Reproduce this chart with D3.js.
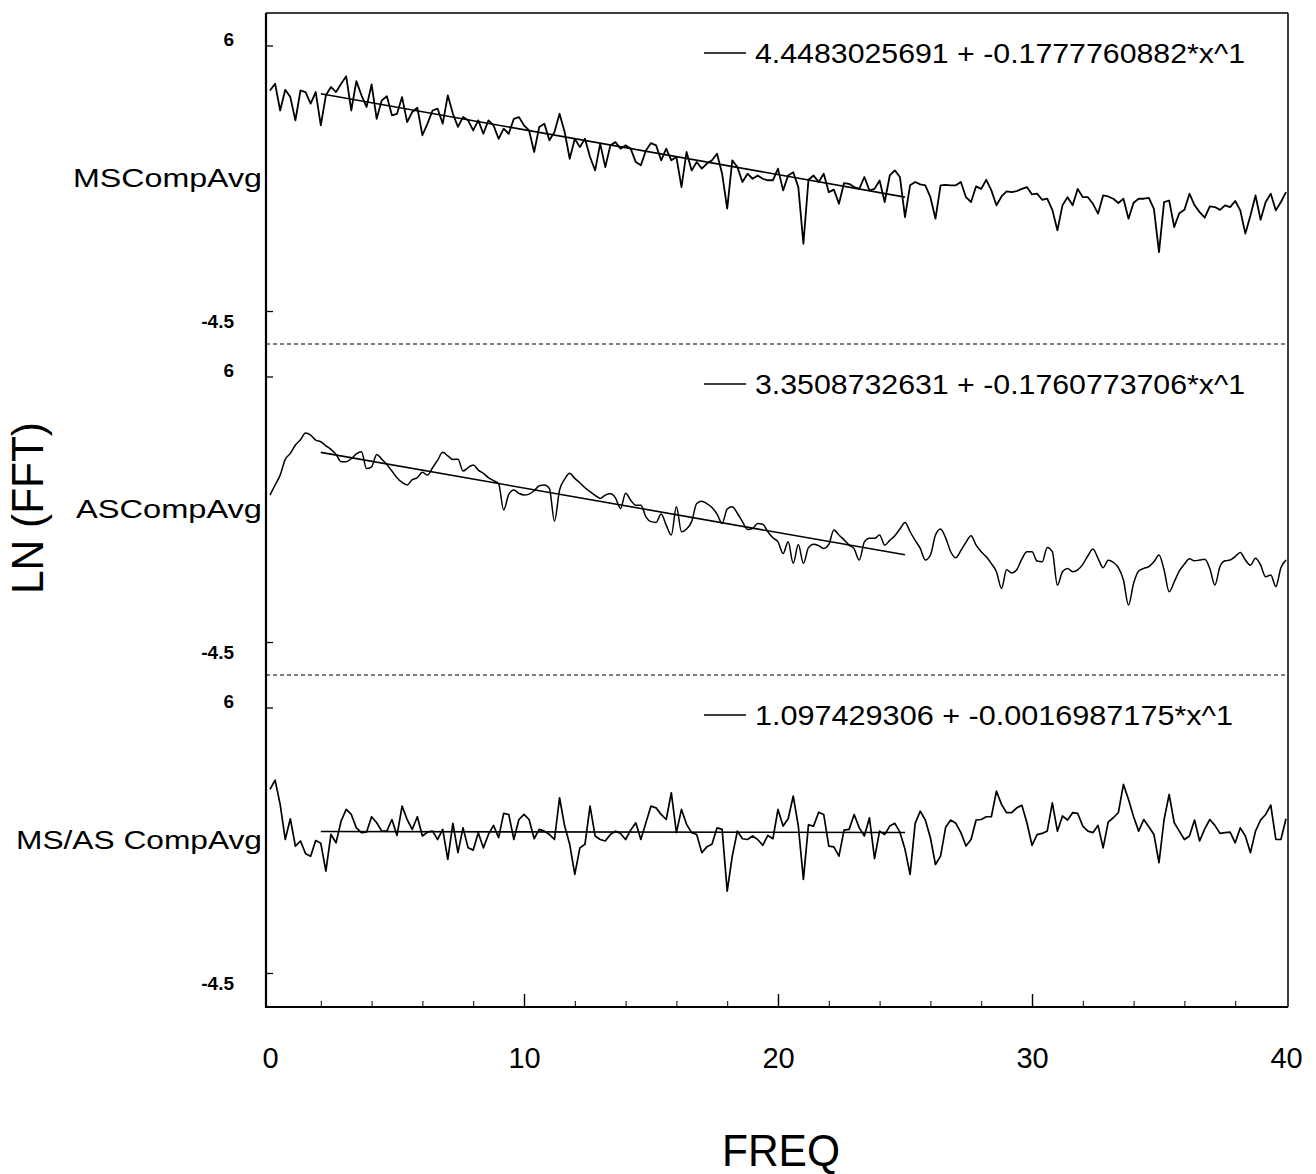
<!DOCTYPE html>
<html lang="en">
<head>
<meta charset="utf-8">
<title>LN (FFT) vs FREQ</title>
<style>
body { margin: 0; background: #fff; }
text { font-family: "Liberation Sans", Arial, Helvetica, sans-serif; fill: #000; }
.axis path, .axis line { fill: none; stroke: #000; }
</style>
</head>
<body>
<script src="https://cdn.jsdelivr.net/npm/d3@7"></script>
<script>

// frequency grid, 0..40 step 0.2
var freq = d3.range(0, 201).map(function(i){ return +(i * 0.2).toFixed(1); });

// LN(FFT) values, one per freq point
var msComp = [
  4.22, 4.49, 3.43, 4.25, 3.96, 3.04, 4.22, 4.16, 3.70, 4.16,
  2.84, 4.03, 4.36, 4.16, 4.49, 4.78, 3.43, 4.59, 4.03, 3.57,
  4.46, 3.10, 3.83, 3.99, 3.24, 3.30, 3.96, 2.97, 3.37, 3.54,
  2.45, 2.91, 3.43, 3.50, 2.91, 4.03, 3.30, 2.78, 3.17, 3.04,
  2.64, 3.04, 2.51, 3.04, 2.84, 2.31, 2.71, 2.51, 3.10, 3.17,
  2.84, 2.64, 1.79, 2.78, 2.91, 2.25, 2.58, 3.30, 2.58, 1.52,
  2.31, 1.98, 2.31, 1.59, 1.06, 2.12, 1.19, 2.05, 2.18, 1.92,
  2.05, 1.92, 1.39, 1.26, 1.85, 2.14, 2.05, 1.46, 1.92, 1.46,
  1.59, 0.40, 1.79, 1.06, 1.39, 1.13, 1.33, 1.46, 1.72, 0.93,
  -0.45, 1.46, 1.19, 0.60, 0.93, 0.73, 0.86, 0.73, 0.67, 0.67,
  1.13,
  0.27, 0.86, 0.99, 0.40, -1.84, 0.69, 0.86, 0.60, 0.93, 0.20,
  0.30, -0.26, 0.56, 0.53, 0.40, 0.33, 0.80, 0.27, 0.33, 0.66,
  -0.19, 0.86, 1.06, 0.80, -0.79, 0.47, 0.60, 0.51, 0.47, 0.00,
  -0.85, 0.47, 0.49, 0.47, 0.47, 0.60, 0.00, -0.19, 0.43, 0.33,
  0.69, 0.27, -0.32, 0.03, 0.23, 0.20, 0.24, 0.33, 0.40, 0.11,
  0.14, -0.10, -0.06, -0.50, -1.31, -0.32, 0.00, -0.32, 0.33, 0.00,
  0.00, -0.26, -0.65, 0.07, 0.03, -0.06, -0.23, -0.06, -0.85, -0.22,
  -0.06, -0.06, -0.03, -0.46, -2.17, -0.19, -0.13, -1.18, -0.63, -0.50,
  0.14, -0.32, -0.59, -0.81, -0.36, -0.39, -0.50, -0.32, -0.39, -0.15,
  -0.52, -1.44, -0.72, 0.07, -0.89, -0.19, 0.14, -0.52, -0.19, 0.20
];

var asComp = [
  1.31, 1.71, 2.10, 2.72, 2.96, 3.29, 3.50, 3.77, 3.68, 3.48,
  3.42, 3.26, 3.12, 2.92, 2.63, 2.63, 2.75, 2.94, 3.02, 2.36,
  2.43, 2.92, 2.73, 2.52, 2.26, 2.00, 1.81, 1.71, 1.92, 2.00,
  2.21, 2.10, 2.39, 2.69, 3.00, 2.86, 2.72, 2.73, 2.26, 2.40,
  2.50, 2.30, 2.17, 2.00, 1.88, 1.76, 0.72, 1.34, 1.51, 1.38,
  1.31, 1.35, 1.48, 1.68, 1.71, 1.57, 0.28, 1.51, 1.94, 2.17,
  1.97, 1.80, 1.60, 1.45, 1.30,
  1.18, 1.31, 1.36, 1.20, 0.78, 1.38, 1.11, 0.91, 0.91, 0.45,
  0.26, 0.23, 0.56, 0.12, -0.27, 0.85, -0.14, -0.03, 0.26, 0.98,
  1.07, 0.97, 0.82, 0.56, 0.19, 0.76, 0.85, 0.59, 0.26, -0.05,
  -0.01, 0.19, 0.16, -0.14, -0.38, -0.54, -1.00, -0.54, -1.39, -0.64,
  -1.39, -0.77, -0.63, -0.69, -0.80, -0.64, -0.07, -0.27, -0.46, -0.67,
  -0.82, -1.26, -0.54, -0.40, -0.40, -0.27, -0.67, -0.48, -0.30, -0.03,
  0.23, -0.14, -0.48, -0.80, -1.26, -1.06, -0.27, -0.03, -0.38, -0.93,
  -1.17, -0.88, -0.56, -0.30, -0.67, -0.93, -1.13, -1.40, -1.72, -2.38,
  -1.64, -1.77, -1.64, -1.22, -0.93, -0.93, -1.30, -1.33, -0.76, -0.93,
  -2.25, -1.72, -1.59, -1.72, -1.65, -1.43, -1.09, -0.82, -1.19, -1.56,
  -1.27, -1.35, -1.56, -2.05, -3.04, -2.18, -1.69, -1.59, -1.52, -1.33,
  -1.06, -1.65, -2.51, -2.12, -1.69, -1.42, -1.21, -1.29, -1.26, -1.23,
  -1.59, -2.25, -1.52, -1.29, -1.26, -1.12, -0.96, -1.26, -1.46, -1.19,
  -1.46, -1.92, -1.85, -2.31, -1.56, -1.26
];

var ratioComp = [
  2.76, 3.13, 2.17, 0.78, 1.60, 0.52, 0.72, 0.22, 0.12, 0.74,
  0.63, -0.47, 0.98, 0.65, 1.51, 1.97, 1.77, 1.24, 1.05, 1.07,
  1.68, 1.44, 1.11, 1.11, 1.57, 0.94, 2.10, 1.57, 1.18, 1.68,
  0.92, 1.07, 1.11, 0.78, 1.18, -0.01, 1.42, 0.26, 1.24, 0.45,
  0.36, 1.05, 0.45, 0.98, 1.34, 0.85, 1.81, 1.77, 0.78, 1.57,
  1.77, 1.57, 0.81, 1.18, 1.11, 0.98, 0.78, 2.43, 1.31, 0.59,
  -0.60, 0.45, 0.59, 2.10, 0.92, 0.78, 0.72, 0.98, 1.11, 1.02,
  0.78, 1.15, 1.44, 0.78, 1.44, 2.10, 2.03, 1.77, 1.57, 2.63,
  1.05, 1.97, 1.38, 1.05, 0.98, 0.26, 0.49, 0.59, 1.24, 1.18,
  -1.26, 0.12, 1.11, 0.81, 0.78, 0.92, 0.78, 0.55, 0.94, 0.81,
  1.97,
  1.31, 1.60, 2.50, 1.31, -0.80, 1.36, 1.31, 1.86, 1.77, 0.52,
  0.49, 0.12, 1.15, 1.18, 1.77, 1.24, 0.92, 1.64, 0.02, 1.11,
  0.98, 1.31, 1.42, 1.07, 0.39, -0.60, 1.42, 1.90, 1.55, 0.85,
  -0.21, 0.12, 1.26, 1.55, 1.42, 1.05, 0.52, 0.78, 1.55, 1.57,
  1.68, 1.68, 2.69, 2.17, 1.84, 1.84, 2.03, 2.13, 1.44, 0.55,
  0.97, 1.02, 1.11, 2.23, 1.11, 1.71, 1.55, 1.84, 1.81, 1.31,
  1.11, 1.05, 1.34, 0.45, 1.47, 1.64, 1.84, 2.96, 2.36, 1.68,
  1.11, 1.57, 1.28, 0.98, -0.14, 1.57, 2.56, 1.44, 1.11, 0.78,
  0.92, 1.55, 0.72, 1.20, 1.57, 1.34, 1.02, 1.05, 1.07, 0.65,
  1.24, 0.92, 0.26, 1.11, 1.55, 1.77, 2.14, 0.78, 0.78, 1.60
];

var panelNames = ["MSCompAvg", "ASCompAvg", "MS/AS CompAvg"];
var fitIntercept = [4.4483025691, 3.3508732631, 1.097429306];
var fitSlope = [-0.1777760882, -0.1760773706, -0.0016987175];
var fitLabels = [
  "4.4483025691 + -0.1777760882*x^1",
  "3.3508732631 + -0.1760773706*x^1",
  "1.097429306 + -0.0016987175*x^1"
];
var fitRange = [2, 25];
var yTicks = [6, -4.5];
var xMajor = [0, 10, 20, 30, 40];
var xMinor = d3.range(2, 40, 2).filter(function(d){ return d % 10 != 0; });

// layout
var W = 1316, H = 1174;
var fl = 266, fr = 1288, ft = 13, fb = 1007; // frame
var panelTops = [13, 344, 675];
var series = [msComp, asComp, ratioComp];
var curves = [d3.curveLinear, d3.curveMonotoneX, d3.curveLinear];
var lineWidth = [1.8, 1.5, 1.7];
var labelWidth = [189, 186, 246];
var fitTextWidth = [490, 490, 478];

var x = d3.scaleLinear().domain([0, 40]).range([270, 1286]);

var svg = d3.select("body").append("svg").attr("width", W).attr("height", H);
svg.append("rect").attr("width", W).attr("height", H).attr("fill", "#fff");

svg.append("clipPath").attr("id", "plot")
  .append("rect").attr("x", fl).attr("y", ft).attr("width", fr - fl).attr("height", fb - ft);

panelTops.forEach(function(top, i){
  var y = d3.scaleLinear().domain([-4.5, 6]).range([top + 298, top + 32.5]);

  // inward ticks on the left axis
  var ax = d3.axisRight(y).tickValues(yTicks).tickSize(7).tickFormat("");
  var g = svg.append("g").attr("class", "axis").attr("transform", "translate(" + fl + ",0)").call(ax);
  g.select(".domain").remove();
  g.selectAll("line").attr("stroke-width", 1.3);

  // tick labels, 6 sits above its tick, -4.5 below
  svg.selectAll(null).data(yTicks).enter().append("text")
    .attr("x", 234)
    .attr("y", function(d){ return y(d) + (d > 0 ? -6 : 10); })
    .attr("dy", "0.35em")
    .attr("text-anchor", "end")
    .attr("font-size", 19)
    .attr("font-weight", "bold")
    .text(function(d){ return d; });

  // panel name
  svg.append("text")
    .attr("x", 262).attr("y", top + 174)
    .attr("text-anchor", "end")
    .attr("font-size", 25)
    .attr("textLength", labelWidth[i]).attr("lengthAdjust", "spacingAndGlyphs")
    .text(panelNames[i]);

  // data curve
  var line = d3.line()
    .x(function(d, j){ return x(freq[j]); })
    .y(function(d){ return y(d); })
    .curve(curves[i]);
  svg.append("path")
    .datum(series[i])
    .attr("clip-path", "url(#plot)")
    .attr("fill", "none").attr("stroke", "#000")
    .attr("stroke-width", lineWidth[i]).attr("stroke-linejoin", "round")
    .attr("d", line);

  // linear fit
  var fit = d3.line()
    .x(function(d){ return x(d); })
    .y(function(d){ return y(fitIntercept[i] + fitSlope[i] * d); });
  svg.append("path")
    .datum(fitRange)
    .attr("fill", "none").attr("stroke", "#000").attr("stroke-width", 1.6)
    .attr("d", fit);

  // legend
  svg.append("line")
    .attr("x1", 704).attr("x2", 746)
    .attr("y1", top + 40).attr("y2", top + 40)
    .attr("stroke", "#000").attr("stroke-width", 1.3);
  svg.append("text")
    .attr("x", 755).attr("y", top + 50)
    .attr("font-size", 28)
    .attr("textLength", fitTextWidth[i]).attr("lengthAdjust", "spacingAndGlyphs")
    .text(fitLabels[i]);
});

// dashed separators between panels
svg.selectAll(null).data(panelTops.slice(1)).enter().append("line")
  .attr("x1", fl).attr("x2", fr)
  .attr("y1", function(d){ return d; }).attr("y2", function(d){ return d; })
  .attr("stroke", "#000").attr("stroke-width", 1.2).attr("stroke-dasharray", "4,3");

// frame
svg.append("line").attr("x1", fl).attr("x2", fr).attr("y1", ft).attr("y2", ft)
  .attr("stroke", "#000").attr("stroke-width", 1.6);
svg.append("line").attr("x1", fr).attr("x2", fr).attr("y1", ft).attr("y2", fb)
  .attr("stroke", "#000").attr("stroke-width", 1.5);
svg.append("line").attr("x1", fl).attr("x2", fl).attr("y1", ft).attr("y2", fb + 1)
  .attr("stroke", "#000").attr("stroke-width", 2.2);
svg.append("line").attr("x1", fl).attr("x2", fr).attr("y1", fb).attr("y2", fb)
  .attr("stroke", "#000").attr("stroke-width", 2.2);

// x axis: inward ticks
var minorAx = d3.axisTop(x).tickValues(xMinor).tickSize(6).tickFormat("");
var gm = svg.append("g").attr("class", "axis").attr("transform", "translate(0," + fb + ")").call(minorAx);
gm.select(".domain").remove();
var majorAx = d3.axisTop(x).tickValues(xMajor.slice(1, 4)).tickSize(13).tickFormat("");
var gM = svg.append("g").attr("class", "axis").attr("transform", "translate(0," + fb + ")").call(majorAx);
gM.select(".domain").remove();
gM.selectAll("line").attr("stroke-width", 1.4);

// x tick labels
var labAx = d3.axisBottom(x).tickValues(xMajor).tickSize(0).tickPadding(40);
var gl = svg.append("g").attr("transform", "translate(0," + fb + ")").call(labAx);
gl.select(".domain").remove();
gl.selectAll("text").attr("font-size", 29).attr("font-family", "'Liberation Sans', Arial, sans-serif");

// axis titles
svg.append("text")
  .attr("transform", "translate(43,508) rotate(-90)")
  .attr("text-anchor", "middle")
  .attr("font-size", 44)
  .attr("textLength", 172).attr("lengthAdjust", "spacingAndGlyphs")
  .text("LN (FFT)");

svg.append("text")
  .attr("x", 781).attr("y", 1166)
  .attr("text-anchor", "middle")
  .attr("font-size", 44)
  .attr("textLength", 118).attr("lengthAdjust", "spacingAndGlyphs")
  .text("FREQ");

</script>
</body>
</html>
